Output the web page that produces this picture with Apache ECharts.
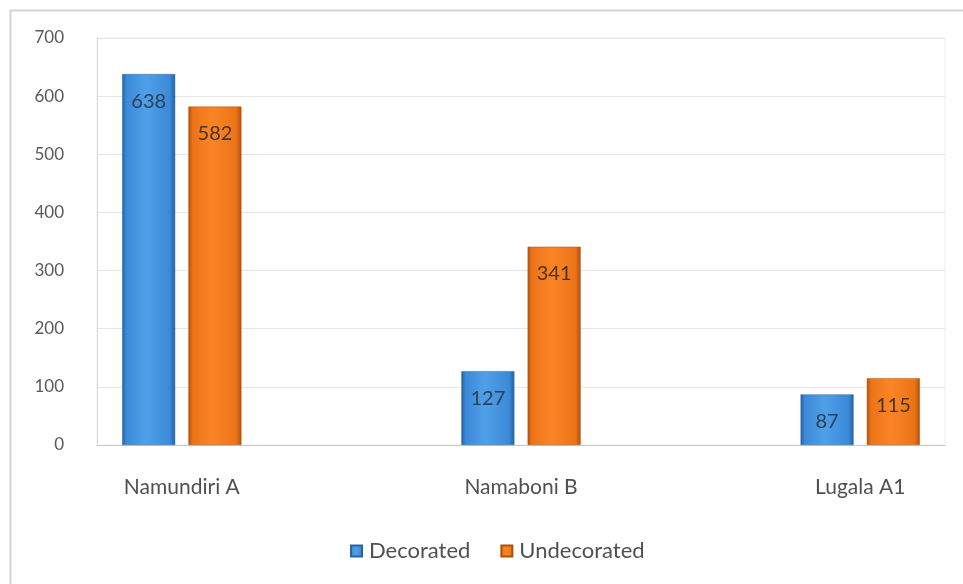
<!DOCTYPE html>
<html>
<head>
<meta charset="utf-8">
<script src="https://cdn.jsdelivr.net/npm/echarts@6/dist/echarts.min.js"></script>
<style>html,body{margin:0;padding:0;background:#fff;}#c{width:963px;height:584px;}</style>
</head>
<body>
<div id="c"></div>
<script>
var categories = ['Namundiri A', 'Namaboni B', 'Lugala A1'];
var decorated = [638, 127, 87];
var undecorated = [582, 341, 115];
var yTicks = [0, 100, 200, 300, 400, 500, 600, 700];

var chart = echarts.init(document.getElementById('c'));
function grad(edge, mid, light) {
  return new echarts.graphic.LinearGradient(0, 0, 1, 0, [
    {offset: 0, color: edge}, {offset: 0.08, color: mid}, {offset: 0.45, color: light},
    {offset: 0.9, color: mid}, {offset: 1, color: edge}
  ]);
}
var blue = grad('#24619f', '#3b8ad8', '#4f9fe8');
var orange = grad('#b1500c', '#ec7418', '#fb8526');
var font = 'Lato, "Open Sans", sans-serif';
function pts(arr) { return arr.map(function (v, i) { return [i, v]; }); }

chart.setOption({
  animation: false,
  graphic: [{type: 'rect', left: 8, top: 8, shape: {width: 990, height: 620}, style: {fill: 'none', stroke: '#d4d4d4', lineWidth: 2}, silent: true}],
  grid: {left: 97, right: 18, top: 38, bottom: 139, show: true, borderColor: '#eeeeee', borderWidth: 1},
  legend: {
    top: 535, left: 345, itemWidth: 11, itemHeight: 11, itemGap: 30, icon: 'rect',
    textStyle: {fontFamily: font, fontSize: 22, color: '#505050', padding: [0, 0, 0, 2]},
    data: ['Decorated', 'Undecorated']
  },
  xAxis: {
    type: 'value', min: -0.25, max: 2.25,
    splitLine: {show: false},
    axisLine: {show: true, lineStyle: {color: '#c8c8c8'}},
    axisTick: {show: false},
    axisLabel: {
      customValues: [0, 1, 2], margin: 32,
      formatter: function (v) { return categories[Math.round(v)] || ''; },
      fontFamily: font, fontSize: 21, color: '#505050'
    }
  },
  yAxis: {
    type: 'value', min: 0, max: 700, interval: 100,
    axisLine: {show: true, onZero: false, lineStyle: {color: '#d8d8d8'}},
    axisTick: {show: false},
    splitLine: {lineStyle: {color: '#e6e6e6'}},
    axisLabel: {margin: 33, fontFamily: font, fontSize: 17, color: '#595959'}
  },
  series: [
    {
      name: 'Decorated', type: 'bar', data: pts(decorated), barWidth: 53, barGap: '25%',
      itemStyle: {color: blue, borderColor: '#2a64a0', borderWidth: 0.5},
      label: {show: true, position: 'insideTop', distance: 17, fontFamily: font, fontSize: 20, color: '#2f3f55',
        formatter: function (p) { return p.value[1]; }}
    },
    {
      name: 'Undecorated', type: 'bar', data: pts(undecorated), barWidth: 53, barGap: '25%',
      itemStyle: {color: orange, borderColor: '#a8500f', borderWidth: 0.5},
      label: {show: true, position: 'insideTop', distance: 17, fontFamily: font, fontSize: 20, color: '#4a3420',
        formatter: function (p) { return p.value[1]; }}
    }
  ]
});
</script>
</body>
</html>
